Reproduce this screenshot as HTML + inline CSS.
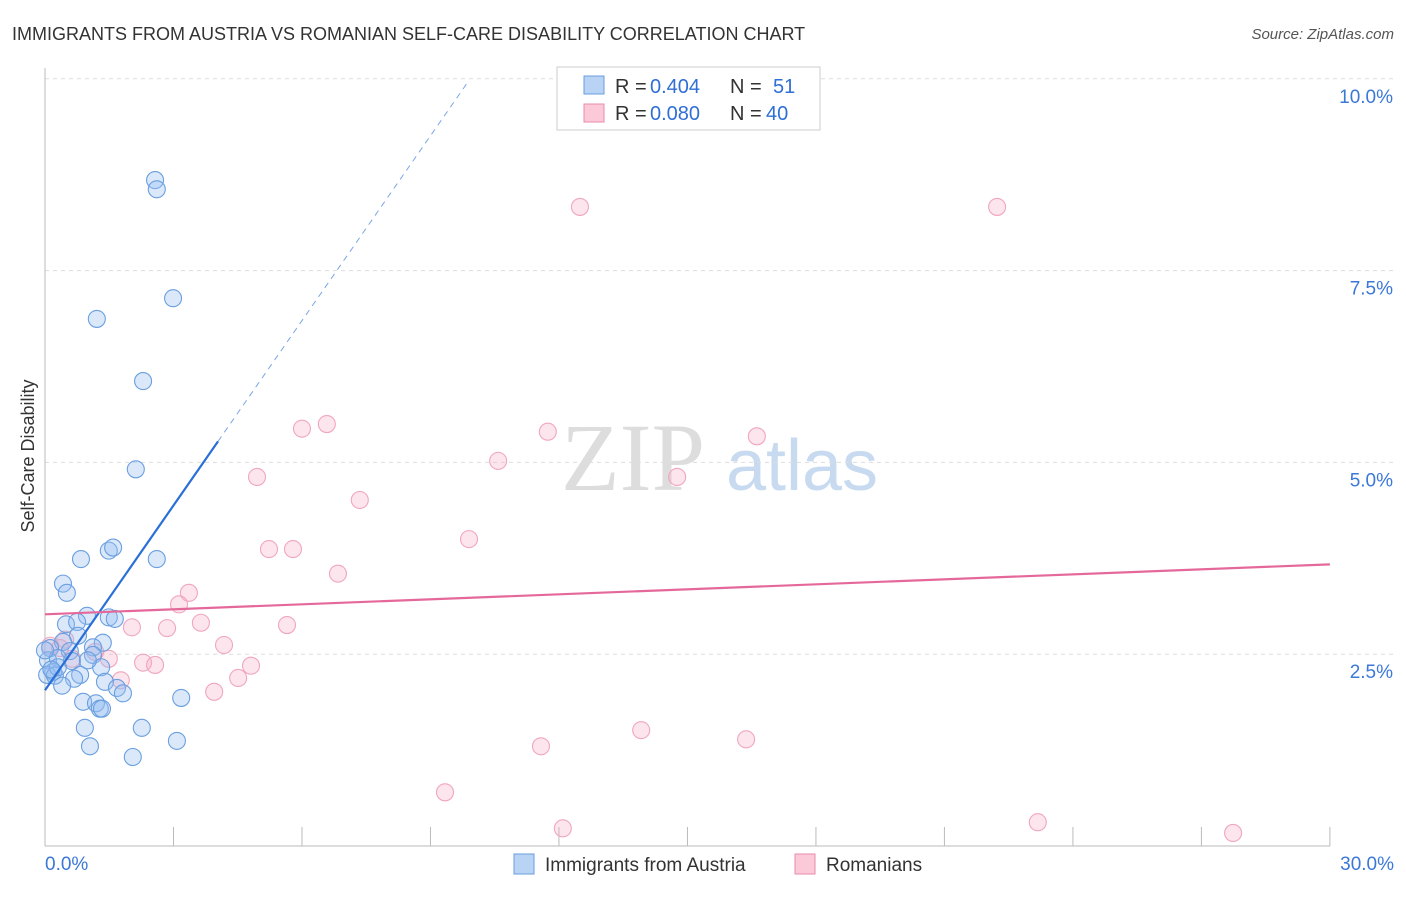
<!DOCTYPE html>
<html><head><meta charset="utf-8"><style>
body{margin:0;background:#fff;font-family:"Liberation Sans",sans-serif}
</style></head><body>
<svg id="chart" width="1406" height="892" xmlns="http://www.w3.org/2000/svg">
<text x="12" y="40" font-size="18" fill="#333">IMMIGRANTS FROM AUSTRIA VS ROMANIAN SELF-CARE DISABILITY CORRELATION CHART</text>
<text x="1394" y="39" font-size="15" fill="#555" text-anchor="end" font-style="italic">Source: ZipAtlas.com</text>
<text transform="translate(34,456) rotate(-90)" font-size="18" fill="#333" text-anchor="middle">Self-Care Disability</text>
<g><text x="633" y="490" font-size="96" fill="#ddd" font-family="Liberation Serif,serif" text-anchor="middle">ZIP</text><text x="802" y="490" font-size="72" fill="#c8daf0" text-anchor="middle">atlas</text></g>
<g id="grid"></g><g id="axes"></g><g id="pts"></g><g id="lines"></g>
<g>
<rect x="557" y="67" width="263" height="63" fill="#fff" stroke="#ccc"/>
<rect x="584" y="76" width="20" height="18" fill="#b9d3f5" stroke="#6a9ee0"/>
<rect x="584" y="104" width="20" height="18" fill="#fbc9d8" stroke="#ea8cab"/>
<text x="615" y="93" font-size="20" fill="#333">R =</text>
<text x="650" y="93" font-size="20" fill="#2f6fd6">0.404</text>
<text x="730" y="93" font-size="20" fill="#333">N =</text>
<text x="773" y="93" font-size="20" fill="#2f6fd6">51</text>
<text x="615" y="120" font-size="20" fill="#333">R =</text>
<text x="650" y="120" font-size="20" fill="#2f6fd6">0.080</text>
<text x="730" y="120" font-size="20" fill="#333">N =</text>
<text x="766" y="120" font-size="20" fill="#2f6fd6">40</text>
</g>
<g>
<rect x="514" y="854" width="20" height="20" fill="#b9d3f5" stroke="#6a9ee0"/>
<text x="545" y="871" font-size="19" fill="#333">Immigrants from Austria</text>
<rect x="795" y="854" width="20" height="20" fill="#fbc9d8" stroke="#ea8cab"/>
<text x="826" y="871" font-size="19" fill="#333">Romanians</text>
</g>
</svg>
<script>
const blueX=[2.57,2.61,2.99,1.21,2.29,2.12,0.84,1.49,1.59,2.61,0.42,0.51,0.98,1.49,1.63,0.49,0.75,0.77,0.42,1.35,1.12,0.58,1.12,0.12,0.07,0.30,0.63,1.31,0.19,0.05,0.23,0.82,0.68,1.40,0.40,1.68,1.82,3.18,0.89,1.19,1.28,1.33,0.93,2.26,3.08,1.05,2.05,0.0,0.30,1.00,0.15];
const blueY=[8.68,8.56,7.14,6.87,6.06,4.91,3.74,3.85,3.89,3.74,3.42,3.30,3.00,2.98,2.96,2.89,2.92,2.74,2.66,2.65,2.59,2.54,2.49,2.58,2.42,2.45,2.41,2.33,2.27,2.23,2.22,2.23,2.18,2.14,2.09,2.06,1.99,1.93,1.88,1.86,1.79,1.79,1.54,1.54,1.37,1.30,1.16,2.55,2.33,2.42,2.30];
const pinkX=[12.49,22.23,6.58,6.00,11.74,16.62,10.58,14.76,4.95,7.35,9.90,5.23,5.79,6.84,3.36,3.13,2.03,2.85,3.64,5.65,4.18,1.49,2.29,2.57,4.81,4.51,3.95,1.77,0.63,0.35,0.12,11.58,13.92,16.37,9.34,12.09,23.18,27.74,1.17,0.47];
const pinkY=[8.33,8.33,5.50,5.44,5.40,5.34,5.02,4.81,4.81,4.51,4.00,3.87,3.87,3.55,3.30,3.15,2.85,2.84,2.91,2.88,2.62,2.44,2.39,2.36,2.35,2.19,2.01,2.16,2.44,2.58,2.61,1.30,1.51,1.39,0.70,0.23,0.31,0.17,2.53,2.69];
const yTicks=[2.5,5.0,7.5,10.0];
const yTickLabels=["2.5%","5.0%","7.5%","10.0%"];
const xTicks=[0,3,6,9,12,15,18,21,24,27,30];
const blueTrend=[2.03,0.803]; // intercept, slope
const pinkTrend=[3.02,0.0217];
const X=v=>45+v*42.83, Y=v=>846-v*76.72;
const NS="http://www.w3.org/2000/svg";
function mk(p,t,a){const e=document.createElementNS(NS,t);for(const k in a)e.setAttribute(k,a[k]);p.appendChild(e);return e;}
const grid=document.getElementById('grid'),axes=document.getElementById('axes'),pts=document.getElementById('pts'),lines=document.getElementById('lines');
yTicks.forEach((t,i)=>{
 const g=mk(grid,'line',{x1:45,x2:1394,y1:Y(t),y2:Y(t),stroke:'#ddd','stroke-dasharray':'4,4'});
 
 
 const l=mk(axes,'text',{x:1393,y:Y(t)+24,'font-size':19,fill:'#3b78d8','text-anchor':'end'});
 l.textContent=yTickLabels[i];
 
 
});
const ax=mk(axes,'line',{x1:45,x2:45,y1:68,y2:846,stroke:'#bbb'});


const bx=mk(axes,'line',{x1:45,x2:1330,y1:846,y2:846,stroke:'#bbb'});


xTicks.forEach(t=>{const k=mk(axes,'line',{x1:X(t),x2:X(t),y1:827,y2:846,stroke:'#bbb'});
 
 });
const x0=mk(axes,'text',{x:45,y:870,'font-size':19,fill:'#3b78d8'});x0.textContent='0.0%';


const x1=mk(axes,'text',{x:1394,y:870,'font-size':19,fill:'#3b78d8','text-anchor':'end'});x1.textContent='30.0%';


pinkX.forEach((x,i)=>{const c=mk(pts,'circle',{cx:X(x),cy:Y(pinkY[i]),r:8.5,fill:'rgba(247,170,195,0.3)',stroke:'#f0a6be','stroke-width':1.1});
 
 });
blueX.forEach((x,i)=>{const c=mk(pts,'circle',{cx:X(x),cy:Y(blueY[i]),r:8.5,fill:'rgba(150,190,240,0.35)',stroke:'#6a9fe0','stroke-width':1.1});
 
 });
const bEnd=4.04,bDash=9.85;
const bl=mk(lines,'line',{x1:X(0),y1:Y(blueTrend[0]),x2:X(bEnd),y2:Y(blueTrend[0]+blueTrend[1]*bEnd),stroke:'#2a6fd8','stroke-width':2.2});


const bd=mk(lines,'line',{x1:X(bEnd),y1:Y(blueTrend[0]+blueTrend[1]*bEnd),x2:X(bDash),y2:Y(blueTrend[0]+blueTrend[1]*bDash),stroke:'#7aa6e6','stroke-width':1,'stroke-dasharray':'6,5'});


const pl=mk(lines,'line',{x1:X(0),y1:Y(pinkTrend[0]),x2:X(30),y2:Y(pinkTrend[0]+pinkTrend[1]*30),stroke:'#e5689a','stroke-width':2.2});


</script>
</body></html>
